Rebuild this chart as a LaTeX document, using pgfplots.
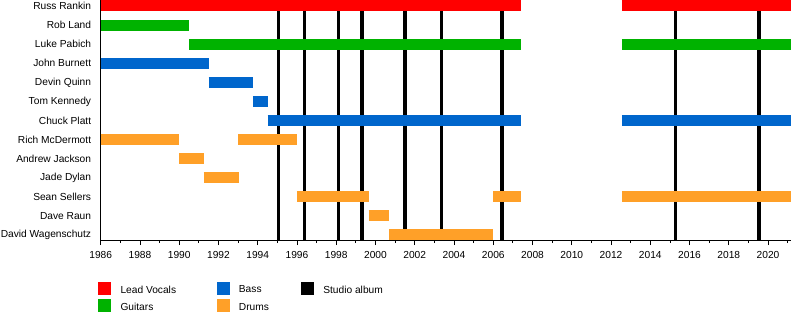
\documentclass[border=0pt]{standalone}
\usepackage{pgfplots}
\pgfplotsset{compat=1.18}
\usepackage{fontspec}
\setmainfont{Liberation Sans}
\definecolor{cred}{RGB}{255,0,0}
\definecolor{cgreen}{RGB}{0,178,0}
\definecolor{cblue}{RGB}{0,102,204}
\definecolor{corange}{RGB}{255,160,40}
\begin{document}
\fontsize{10.2bp}{12bp}\selectfont
\begin{tikzpicture}
\path[use as bounding box] (0,0) rectangle (800bp,315bp);
\begin{axis}[
  at={(100.7bp,75bp)}, anchor=south west,
  scale only axis, width=690.3bp, height=240bp,
  xmin=1986, xmax=2021.17, ymin=-0.262, ymax=12.31,
  axis lines*=left, axis line style={line width=0.9bp, -},
  xtick={1986,1988,...,2020}, minor xtick={1987,1989,...,2021},
  /pgf/number format/1000 sep={}, /pgf/number format/assume math mode=true,
  ytick={0,...,12},
  yticklabels={David Wagenschutz, Dave Raun, Sean Sellers, Jade Dylan, Andrew Jackson, Rich McDermott, Chuck Platt, Tom Kennedy, Devin Quinn, John Burnett, Luke Pabich, Rob Land, Russ Rankin},
  y tick style={draw=none},
  x tick style={black, line width=0.8bp},
  tick align=outside,
  major tick length=5bp, minor tick length=3bp,
  xticklabel style={yshift=-2.5bp},
  yticklabel style={xshift=-1bp},
  legend columns=3,
  legend cell align=left,
  legend style={at={(-0.004,-0.173)}, anchor=north west, draw=none, fill=none, inner sep=0pt, row sep=4.3bp, column sep=0pt, nodes={inner sep=0pt}},
]
% studio albums
\addplot[black, line width=3.3bp, forget plot] coordinates {(1995.05,-0.262) (1995.05,12.31)};
\addplot[black, line width=3.3bp, forget plot] coordinates {(1996.37,-0.262) (1996.37,12.31)};
\addplot[black, line width=3.3bp, forget plot] coordinates {(1998.1,-0.262) (1998.1,12.31)};
\addplot[black, line width=3.3bp, forget plot] coordinates {(1999.32,-0.262) (1999.32,12.31)};
\addplot[black, line width=3.3bp, forget plot] coordinates {(2001.5,-0.262) (2001.5,12.31)};
\addplot[black, line width=3.3bp, forget plot] coordinates {(2003.37,-0.262) (2003.37,12.31)};
\addplot[black, line width=3.3bp, forget plot] coordinates {(2006.45,-0.262) (2006.45,12.31)};
\addplot[black, line width=3.3bp, forget plot] coordinates {(2015.3,-0.262) (2015.3,12.31)};
\addplot[black, line width=3.3bp, forget plot] coordinates {(2019.54,-0.262) (2019.54,12.31)};
% Russ Rankin
\addplot[cred, line width=11bp, forget plot] coordinates {(1986,12) (2007.4,12)};
\addplot[cred, line width=11bp, forget plot] coordinates {(2012.55,12) (2021.17,12)};
% Rob Land
\addplot[cgreen, line width=11bp, forget plot] coordinates {(1986,11) (1990.5,11)};
% Luke Pabich
\addplot[cgreen, line width=11bp, forget plot] coordinates {(1990.5,10) (2007.4,10)};
\addplot[cgreen, line width=11bp, forget plot] coordinates {(2012.55,10) (2021.17,10)};
% John Burnett
\addplot[cblue, line width=11bp, forget plot] coordinates {(1986,9) (1991.5,9)};
% Devin Quinn
\addplot[cblue, line width=11bp, forget plot] coordinates {(1991.5,8) (1993.75,8)};
% Tom Kennedy
\addplot[cblue, line width=11bp, forget plot] coordinates {(1993.75,7) (1994.5,7)};
% Chuck Platt
\addplot[cblue, line width=11bp, forget plot] coordinates {(1994.5,6) (2007.4,6)};
\addplot[cblue, line width=11bp, forget plot] coordinates {(2012.55,6) (2021.17,6)};
% Rich McDermott
\addplot[corange, line width=11bp, forget plot] coordinates {(1986,5) (1990,5)};
\addplot[corange, line width=11bp, forget plot] coordinates {(1993,5) (1996,5)};
% Andrew Jackson
\addplot[corange, line width=11bp, forget plot] coordinates {(1990,4) (1991.25,4)};
% Jade Dylan
\addplot[corange, line width=11bp, forget plot] coordinates {(1991.25,3) (1993.05,3)};
% Sean Sellers
\addplot[corange, line width=11bp, forget plot] coordinates {(1996,2) (1999.65,2)};
\addplot[corange, line width=11bp, forget plot] coordinates {(2006,2) (2007.4,2)};
\addplot[corange, line width=11bp, forget plot] coordinates {(2012.55,2) (2021.17,2)};
% Dave Raun
\addplot[corange, line width=11bp, forget plot] coordinates {(1999.65,1) (2000.7,1)};
% David Wagenschutz
\addplot[corange, line width=11bp, forget plot] coordinates {(2000.7,0) (2006,0)};
% legend
\addlegendimage{legend image code/.code={\fill[cred] (0bp,-3.7bp) rectangle (12bp,8.3bp);}}
\addlegendentry{\hspace*{10bp}\makebox[96bp][l]{Lead Vocals}}
\addlegendimage{legend image code/.code={\fill[cblue] (0bp,-3.7bp) rectangle (12bp,8.3bp);}}
\addlegendentry{\hspace*{10bp}\makebox[62bp][l]{Bass}}
\addlegendimage{legend image code/.code={\fill[black] (0bp,-3.7bp) rectangle (12bp,8.3bp);}}
\addlegendentry{\hspace*{10bp}Studio album}
\addlegendimage{legend image code/.code={\fill[cgreen] (0bp,-3.7bp) rectangle (12bp,8.3bp);}}
\addlegendentry{\hspace*{10bp}\makebox[96bp][l]{Guitars}}
\addlegendimage{legend image code/.code={\fill[corange] (0bp,-3.7bp) rectangle (12bp,8.3bp);}}
\addlegendentry{\hspace*{10bp}\makebox[62bp][l]{Drums}}
\end{axis}
\end{tikzpicture}
\end{document}
